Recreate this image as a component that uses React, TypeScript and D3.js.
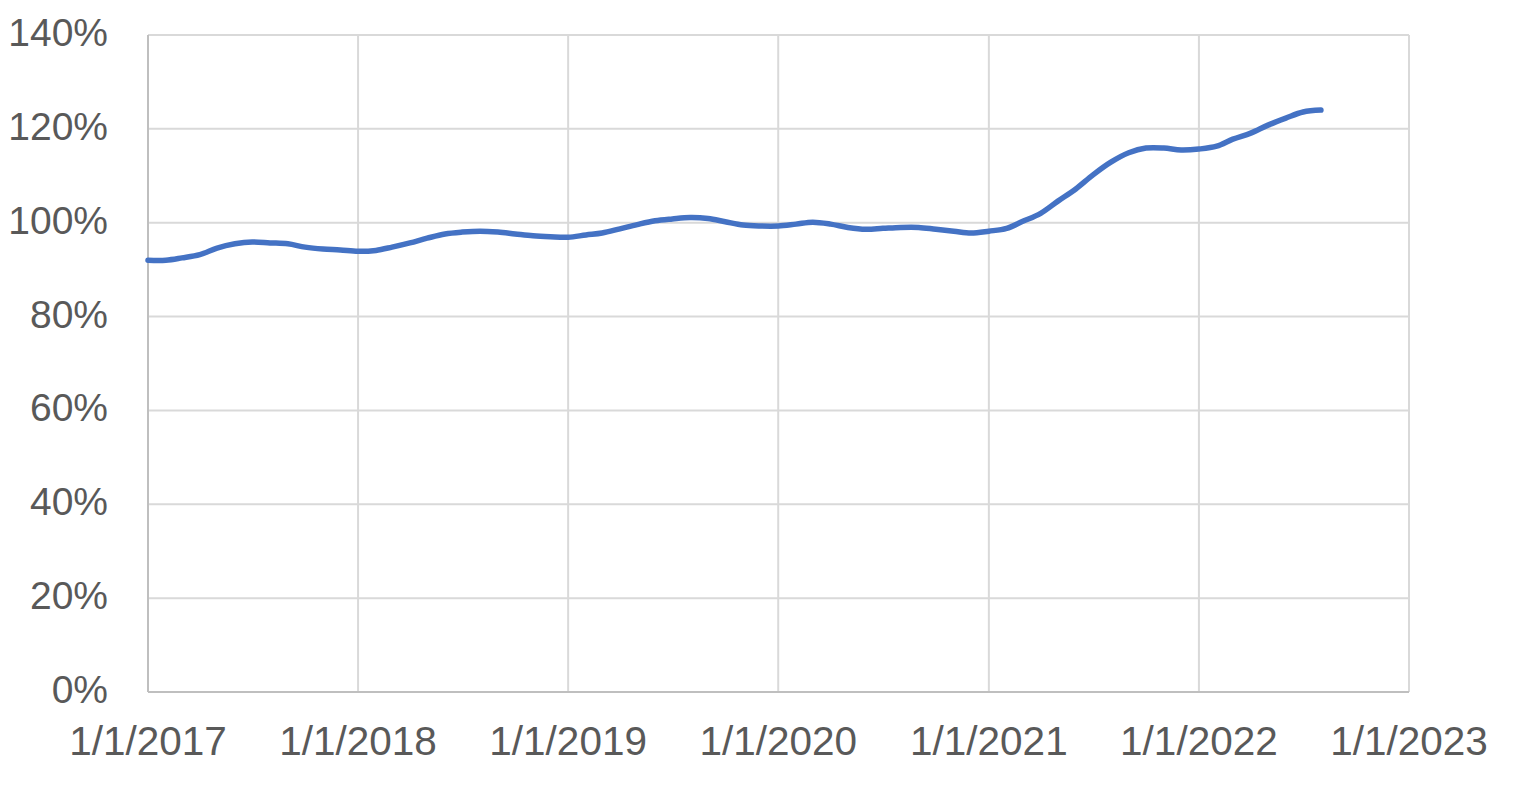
import React from "react";
import * as d3 from "d3";

const startYear = 2017;
const values: number[] = [
  92.0, 92.0, 92.5, 93.2, 94.6, 95.5, 95.9, 95.7, 95.5, 94.8, 94.4, 94.2,
  93.9, 94.1, 94.8, 95.7, 96.7, 97.6, 98.0, 98.2, 98.0, 97.6, 97.2, 97.0,
  96.9, 97.4, 97.8, 98.7, 99.6, 100.4, 100.8, 101.1, 100.9, 100.2, 99.5, 99.3,
  99.3, 99.7, 100.1, 99.7, 99.0, 98.6, 98.8, 99.0, 99.0, 98.6, 98.2, 97.8,
  98.2, 98.8, 100.3, 102.0, 104.6, 107.2, 110.2, 112.9, 114.9, 115.9, 115.9, 115.5,
  115.7, 116.3, 117.8, 119.1, 120.8, 122.3, 123.6, 124.0,
];
const yTicks: number[] = [0, 20, 40, 60, 80, 100, 120, 140];
const xTickYears: number[] = [2017, 2018, 2019, 2020, 2021, 2022, 2023];

export default function App() {
  const W = 1521, H = 806;
  const left = 148, right = 1409, top = 35, bottom = 692;
  const x = d3.scaleTime()
    .domain([new Date(2017, 0, 1), new Date(2023, 0, 1)])
    .range([left, right]);
  const y = d3.scaleLinear().domain([0, 140]).range([bottom, top]);
  const pts = values.map((v, i) => ({ d: new Date(startYear, i, 1), v }));
  const line = d3.line<{ d: Date; v: number }>()
    .x((p) => x(p.d))
    .y((p) => y(p.v))
    .curve(d3.curveCatmullRom.alpha(0.5));
  const font = "'Liberation Sans', Arial, sans-serif";
  return (
    <svg width={W} height={H} style={{ position: "absolute", left: 0, top: 0, background: "#fff" }}>
      {yTicks.map((t) => (
        <line key={"gy" + t} x1={left} x2={right} y1={y(t)} y2={y(t)} stroke="#d9d9d9" strokeWidth={2} />
      ))}
      {xTickYears.map((yr) => (
        <line key={"gx" + yr} x1={x(new Date(yr, 0, 1))} x2={x(new Date(yr, 0, 1))} y1={top} y2={bottom} stroke="#d9d9d9" strokeWidth={2} />
      ))}
      <line x1={left} x2={left} y1={top} y2={bottom} stroke="#bfbfbf" strokeWidth={2} />
      <line x1={left} x2={right} y1={bottom} y2={bottom} stroke="#bfbfbf" strokeWidth={2} />
      {yTicks.map((t) => (
        <text key={"ty" + t} x={108} y={y(t) + 11} textAnchor="end" fontFamily={font} fontSize={39} fill="#595959">
          {t + "%"}
        </text>
      ))}
      {xTickYears.map((yr) => (
        <text key={"tx" + yr} x={x(new Date(yr, 0, 1))} y={755} textAnchor="middle" fontFamily={font} fontSize={40.5} fill="#595959">
          {"1/1/" + yr}
        </text>
      ))}
      <path d={line(pts) || ""} fill="none" stroke="#4472c4" strokeWidth={5.5} strokeLinecap="round" strokeLinejoin="round" />
    </svg>
  );
}
